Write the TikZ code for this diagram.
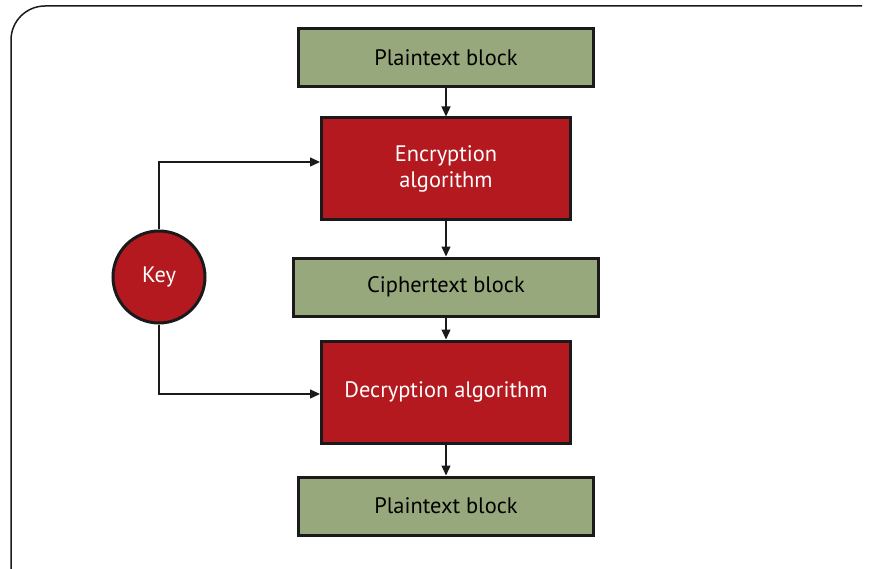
\documentclass[tikz,border=0pt]{standalone}
\usepackage{fontspec}
\setmainfont{PT Sans}
\usetikzlibrary{arrows.meta}
\definecolor{blockgreen}{HTML}{97A97C}
\definecolor{algred}{HTML}{B3191F}
\definecolor{edge}{HTML}{1A1A1A}
\begin{document}
\begin{tikzpicture}[x=1pt,y=-1pt,
  every node/.style={font=\fontsize{22.4}{26}\selectfont},
  datablock/.style={draw=edge,line width=3pt,fill=blockgreen,text=black,minimum height=58pt,inner sep=0pt},
  algbox/.style={draw=edge,line width=3pt,fill=algred,text=white,minimum width=249pt,minimum height=102pt,inner sep=0pt,align=center},
  keydisc/.style={circle,draw=edge,line width=3pt,fill=algred,text=white,minimum size=92pt,inner sep=0pt},
  flow/.style={draw=edge,line width=1.3pt,-{Triangle[length=10pt,width=9pt]}}]
  \useasboundingbox (0,0) rectangle (869,569);
  % outer frame
  \draw[edge,line width=1.5pt,rounded corners=34pt] (11,575) -- (11,6) -- (862,6);
  % blocks
  \node[datablock,minimum width=295pt] (p1) at (446,58) {Plaintext block};
  \node[algbox] (enc) at (446,169) {Encryption\\algorithm};
  \node[datablock,minimum width=305pt] (c) at (446,287) {Ciphertext block};
  \node[algbox] (dec) at (446,392) {Decryption algorithm};
  \node[datablock,minimum width=295pt] (p2) at (446,506) {Plaintext block};
  \node[keydisc] (key) at (159,277) {Key};
  % flow arrows
  \draw[flow] (p1) -- (enc);
  \draw[flow] (enc) -- (c);
  \draw[flow] (c) -- (dec);
  \draw[flow] (dec) -- (p2);
  \draw[flow] (key.north) |- ([yshift=7pt]enc.west);
  \draw[flow] (key.south) |- ([yshift=-2pt]dec.west);
\end{tikzpicture}
\end{document}
